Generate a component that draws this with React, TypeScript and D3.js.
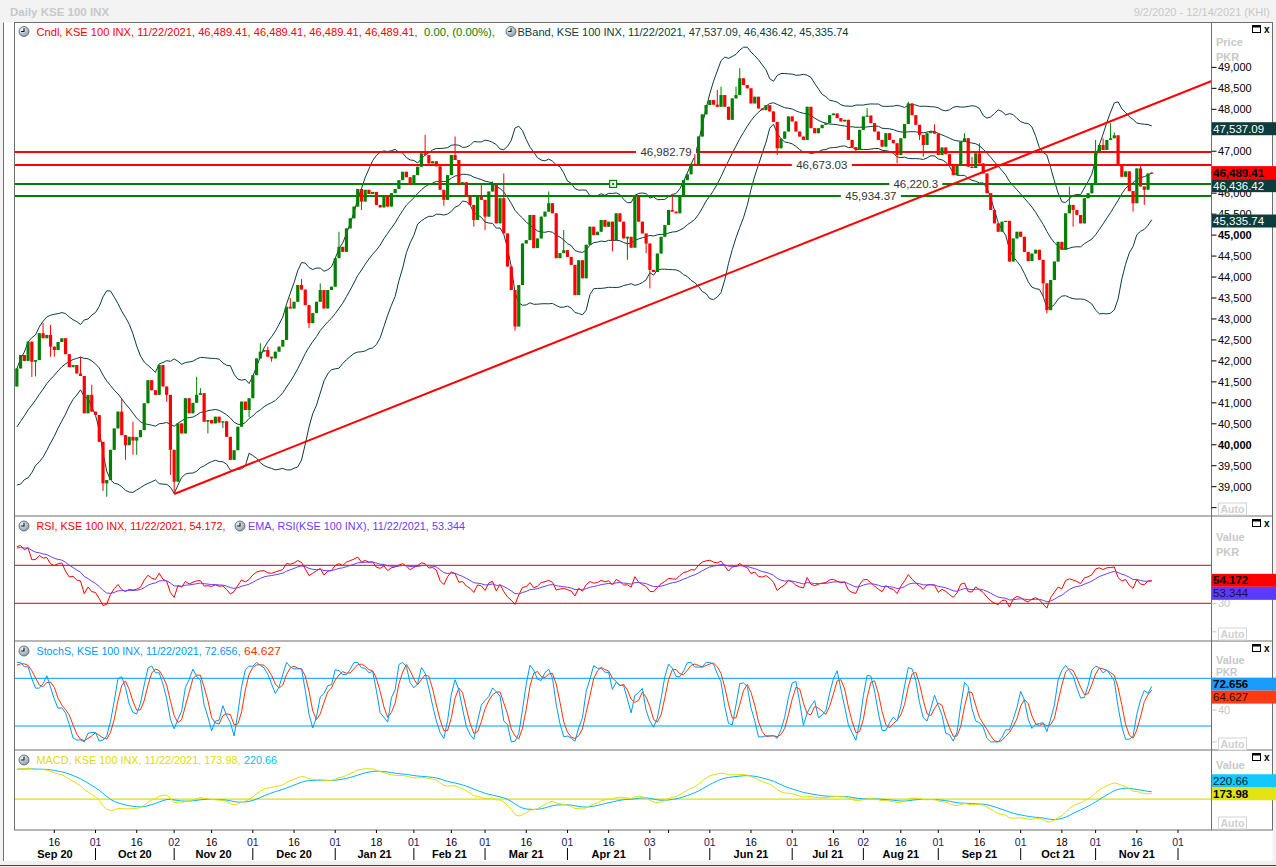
import * as d3 from 'd3';

// ---------- data (KSE 100 daily) ----------
const HOLIDAYS = [
  '2020-10-30', '2020-12-25', '2021-02-05', '2021-03-23',
  '2021-05-10', '2021-05-11', '2021-05-12', '2021-05-13', '2021-05-14',
  '2021-07-20', '2021-07-21', '2021-07-22', '2021-08-18', '2021-08-19', '2021-10-19',
];

// history before the window, only used to seed the indicators (estimated from the band/osc. levels at the left edge)
const PRE_CLOSE = [
  34500, 34700, 35100, 35400, 35300, 35700, 36000, 36250, 36100, 36600, 36900,
  37200, 37050, 37400, 37700, 37600, 38000, 38300, 38200, 38500, 38800, 39100,
  39280, 39450, 39390, 39600, 39720, 39650, 39900, 40050, 39980, 40200,
  40420, 40350, 40600, 40780, 40700, 40950, 41150, 41080, 41300, 41390,
];

const FIRST_OPEN = 41390;

const CLOSE = [
  // Sep 20
  41820, 42140, 42000, 42460, 41980, 42020, 42660, 42540, 42620, 42340, 42260,
  42450, 42540, 42160, 41850, 41900, 41700, 41640, 40750, 41190, 40790,
  // Oct 20
  40710, 40070, 39080, 39160, 39880, 40390, 40790, 40230, 39990, 40190, 40100,
  40180, 40350, 40990, 41540, 41300, 41190, 41900, 41390, 41190, 39880,
  // Nov 20
  39120, 40510, 40270, 41110, 40750, 41000, 41190, 41230, 40550, 40590, 40510,
  40670, 40530, 40560, 40190, 39640, 39870, 40430, 41030, 40830, 41110,
  // Dec 20
  41660, 42060, 42220, 42260, 42100, 42060, 42220, 42340, 42500, 43290, 43250,
  43410, 43810, 43700, 43330, 42900, 43140, 43410, 43690, 43250, 43690, 43770,
  // Jan 21
  44450, 44720, 44600, 45160, 45400, 45680, 46100, 45800, 46080, 45980, 46030,
  45720, 45660, 45950, 45680, 46000, 46100, 46310, 46510, 46380, 46200,
  // Feb 21
  46430, 46630, 46950, 46910, 46710, 46760, 46640, 46080, 45840, 46430, 46910,
  46790, 46200, 46260, 45920, 45720, 45360, 45920, 45840,
  // Mar 21
  45440, 46040, 46200, 45280, 45880, 45040, 44250, 43690, 42820, 43810, 44800,
  44880, 45480, 44690, 44920, 45440, 45560, 45760, 45520, 44450, 44570, 44640,
  // Apr 21
  44480, 44290, 43570, 44400, 43970, 44770, 45200, 45000, 45080, 45360, 45200,
  45320, 44880, 45520, 45320, 44920, 44960, 44700, 45920, 45320, 45040, 44800,
  // May 21
  44170, 44120, 44560, 44960, 45240, 45600, 45560, 45520, 45950, 46310, 46450,
  46700, 46680, 47350, 47880, 48100,
  // Jun 21
  48220, 48110, 48060, 48340, 48060, 47750, 48260, 48340, 48740, 48580, 48500,
  48140, 48300, 48020, 47980, 48100, 47950, 47700, 47070, 47300, 47470, 47830,
  // Jul 21
  47710, 47470, 47350, 47270, 48060, 47550, 47430, 47550, 47630, 47670, 47860,
  47900, 47790, 47710, 47750, 47270, 47100, 47040, 47510,
  // Aug 21
  47830, 47850, 47670, 47470, 47270, 47110, 47430, 47270, 47190, 46910, 47310,
  47650, 48140, 47860, 47630, 47390, 47150, 47430, 47470, 47420,
  // Sep 21
  46910, 47090, 46930, 46670, 46430, 46670, 47230, 47310, 46630, 46600, 46950,
  46710, 46470, 46000, 45600, 45280, 45080, 45320, 45340, 44370, 44920, 45080,
  // Oct 21
  44960, 44600, 44380, 44560, 44650, 44410, 43850, 43210, 43930, 44370, 44840,
  44650, 45520, 45720, 45600, 45480, 45280, 45880, 46000, 46230,
  // Nov 21
  46990, 47150, 47030, 47270, 47310, 47380, 46670, 46390, 46520, 46050, 45760,
  46590, 46160, 46080, 46470, 46489.41,
];

// visible wick tips: [candle index, price]
const HIGH_WICKS: [number, number][] = [
  [7, 42900], [9, 42860], [17, 42100], [20, 41430], [28, 41110], [31, 40550],
  [48, 41620], [49, 41350], [65, 42420], [67, 42340], [73, 43500], [76, 43950],
  [81, 43850], [86, 45080], [109, 47390], [117, 47350], [124, 46240], [127, 46280],
  [130, 46470], [142, 46040], [146, 45120], [175, 45960], [181, 46930], [187, 48460],
  [188, 48540], [192, 48540], [193, 48980], [227, 48030], [238, 48180], [245, 47640],
  [253, 47430], [255, 46870], [257, 47190], [281, 46160], [288, 47270], [290, 47310],
  [292, 47670], [293, 47450], [300, 46670],
];
const LOW_WICKS: [number, number][] = [
  [4, 41620], [5, 41630], [9, 42100], [10, 42100], [23, 38900], [24, 38760],
  [29, 39640], [31, 39760], [32, 39760], [40, 41030], [41, 39280], [42, 38880],
  [51, 40270], [55, 40400], [62, 40660], [68, 41980], [78, 42780], [92, 45600],
  [114, 45700], [122, 45200], [125, 45120], [133, 42720], [159, 44610], [163, 44410],
  [168, 44570], [169, 43730], [203, 46910], [224, 46990], [235, 46710], [241, 47270],
  [242, 46870], [274, 43530], [275, 43130], [282, 45200], [287, 45990], [298, 45560],
  [301, 45720],
];

const LEVELS = [46982.79, 46673.03, 46220.3, 45934.37];
const LEVEL_KIND = ['res', 'res', 'sup', 'sup'];
const TREND = [[42, 38826], [303, 48105]];

const LAST_CLOSE = 46489.41;
const LAST_BBAND = [47537.09, 46436.42, 45335.74];
const LAST_RSI = [54.172, 53.344];
const LAST_STOCH = [72.656, 64.627];
const LAST_MACD = [173.98, 220.66];
const PRICE_TICKS = d3.range(38500, 49001, 500);
const RSI_TICKS = [0, 30, 60];
const STOCH_TICKS = [0, 40, 80];
const MONTHS = ['Jan', 'Feb', 'Mar', 'Apr', 'May', 'Jun', 'Jul', 'Aug', 'Sep', 'Oct', 'Nov', 'Dec'];

// ---------- layout ----------
const W = 1276, H = 867;
const PL = 14.5, PR = 1211.5, AR = 1272.5;
const P1 = [22.5, 516], P2 = [516, 641], P3 = [641, 750], P4 = [750, 830];
const FONT = '"Liberation Sans", Arial, sans-serif';
const TEAL = '#0c3c3c';
const UP = '#008000', DOWN = '#ff0000';

function tradingDays() {
  const out: Date[] = [];
  const d = new Date(Date.UTC(2020, 8, 2));
  const end = Date.UTC(2021, 11, 14);
  while (d.getTime() <= end) {
    const wd = d.getUTCDay();
    const iso = d.toISOString().slice(0, 10);
    if (wd !== 0 && wd !== 6 && !HOLIDAYS.includes(iso)) out.push(new Date(d.getTime()));
    d.setUTCDate(d.getUTCDate() + 1);
  }
  return out;
}

function ema(arr: number[], p: number) {
  const k = 2 / (p + 1);
  const out: number[] = [];
  arr.forEach((v, i) => out.push(i === 0 ? v : v * k + out[i - 1] * (1 - k)));
  return out;
}

function Clock({ x, y }: { x: number; y: number }) {
  return (
    <g transform={`translate(${x},${y})`}>
      <circle r={5} fill="url(#clk)" stroke="#4d5a66" strokeWidth={0.8} />
      <path d="M0,-3.3V0H-2.8" stroke="#111" strokeWidth={1.1} fill="none" />
    </g>
  );
}

function WinIcons({ y }: { y: number }) {
  return (
    <g>
      <rect x={1252.5} y={y - 3.5} width={8} height={7} fill="none" stroke="#000" strokeWidth={1} />
      <line x1={1252.5} x2={1260.5} y1={y - 2.5} y2={y - 2.5} stroke="#000" strokeWidth={2} />
      <text x={1264} y={y + 3.5} fontSize={10} fontWeight="bold" fontFamily={FONT}>x</text>
    </g>
  );
}

function AutoBox({ y }: { y: number }) {
  return (
    <g>
      <rect x={1218.5} y={y - 6} width={28} height={12} fill="#fff" stroke="#d4d4d4" />
      <text x={1232.5} y={y + 4} textAnchor="middle" fontSize={10.5} fontWeight="bold" fill="#cfcfcf" fontFamily={FONT}>Auto</text>
    </g>
  );
}

type Box = { label: string; y: number; bg: string; fg: string; bold?: boolean };
function ValueBox({ b }: { b: Box }) {
  return (
    <g>
      <rect x={1212} y={b.y - 6.5} width={64} height={13} fill={b.bg} />
      <text x={1213} y={b.y + 4} fontSize={11.5} fontWeight={b.bold ? 'bold' : 'normal'} fill={b.fg} fontFamily={FONT}>{b.label}</text>
    </g>
  );
}

function stack(anchorY: number, anchorV: number, y: number, v: number) {
  if (Math.abs(y - anchorY) >= 13) return y;
  return v > anchorV ? anchorY - 13 : anchorY + 13;
}

// a tick label is left out when a value box covers its tick
const covered = (y: number, boxes: Box[]) => boxes.some((b) => Math.abs(b.y - y) < 6.5);

export default function App() {
  const days = tradingDays();
  const n = CLOSE.length;
  const hi = new Map(HIGH_WICKS);
  const lo = new Map(LOW_WICKS);
  const candles = CLOSE.map((c, i) => {
    const o = i === 0 ? FIRST_OPEN : i === n - 1 ? c : CLOSE[i - 1];
    const h = Math.max(o, c, hi.has(i) ? (hi.get(i) as number) : -Infinity);
    const l = Math.min(o, c, lo.has(i) ? (lo.get(i) as number) : Infinity);
    return { i, o, h, l, c };
  });

  // ----- indicators -----
  const pre = PRE_CLOSE.length;
  const allC = [...PRE_CLOSE, ...CLOSE];
  const allH = [...PRE_CLOSE, ...candles.map((d) => d.h)];
  const allL = [...PRE_CLOSE, ...candles.map((d) => d.l)];
  const N = allC.length;

  const bb = d3.range(n).map((i) => {
    const j = i + pre;
    const w = allC.slice(j - 19, j + 1);
    const m = d3.mean(w) as number;
    const sd = Math.sqrt(d3.mean(w, (v) => (v - m) ** 2) as number);
    return { up: m + 2 * sd, mid: m, low: m - 2 * sd };
  });

  const rsiAll: number[] = new Array(N).fill(NaN);
  let ag = 0, al = 0;
  for (let j = 1; j < N; j++) {
    const ch = allC[j] - allC[j - 1];
    const g = Math.max(ch, 0), l = Math.max(-ch, 0);
    if (j <= 14) {
      ag += g / 14; al += l / 14;
      if (j === 14) rsiAll[j] = 100 - 100 / (1 + ag / al);
    } else {
      ag = (ag * 13 + g) / 14; al = (al * 13 + l) / 14;
      rsiAll[j] = 100 - 100 / (1 + ag / al);
    }
  }
  const rsiEma = [...new Array(14).fill(NaN), ...ema(rsiAll.slice(14), 9)];
  const rsi = rsiAll.slice(pre);
  const rsiE = rsiEma.slice(pre);

  // slow stochastic 5,3,3
  const KP = 5;
  const rawK: number[] = allC.map((c, j) => {
    if (j < KP - 1) return NaN;
    const hh = d3.max(allH.slice(j - KP + 1, j + 1)) as number;
    const ll = d3.min(allL.slice(j - KP + 1, j + 1)) as number;
    return hh === ll ? 50 : ((c - ll) / (hh - ll)) * 100;
  });
  const slowK = rawK.map((_, j) => (j < KP + 1 ? NaN : (rawK[j] + rawK[j - 1] + rawK[j - 2]) / 3));
  const slowD = slowK.map((_, j) => (j < KP + 3 ? NaN : (slowK[j] + slowK[j - 1] + slowK[j - 2]) / 3));
  const stK = slowK.slice(pre);
  const stD = slowD.slice(pre);

  const e12 = ema(allC, 12), e26 = ema(allC, 26);
  const macdAll = allC.map((_, j) => e12[j] - e26[j]);
  const sigAll = ema(macdAll, 9);
  const macd = macdAll.slice(pre);
  const sig = sigAll.slice(pre);

  // ----- scales -----
  const x = d3.scaleLinear().domain([0, 310]).range([16.85, 1178]);
  const yP = d3.scaleLinear().domain([39000, 48000]).range([486.7, 109.3]);
  const yR = d3.scaleLinear().domain([30, 70]).range([603.3, 565.3]);
  const yS = d3.scaleLinear().domain([20, 80]).range([726, 678.3]);
  const mExt = d3.extent([...macd, ...sig]) as [number, number];
  const yM = d3.scaleLinear().domain(mExt).range([822, 768]);

  const lineOf = (ys: (v: number) => number) =>
    d3.line<number>().defined((v) => Number.isFinite(v)).x((_, i) => x(i)).y((v) => ys(v));

  // ----- time axis -----
  const ticks: { i: number; label: string; start: boolean }[] = [];
  const monthStarts: { i: number; label: string }[] = [];
  days.forEach((d, i) => {
    const prev = days[i - 1];
    const m = d.getUTCMonth();
    if (!prev || prev.getUTCMonth() !== m) {
      monthStarts.push({ i, label: `${MONTHS[m]} ${String(d.getUTCFullYear()).slice(2)}` });
      if (prev) ticks.push({ i, label: String(d.getUTCDate()).padStart(2, '0'), start: true });
    }
    if (d.getUTCDate() >= 16 && (!prev || prev.getUTCDate() < 16 || prev.getUTCMonth() !== m)) {
      ticks.push({ i, label: String(d.getUTCDate()).padStart(2, '0'), start: false });
    }
  });
  let lastLab = -1e9;
  const tickLabs = ticks.map((t) => {
    const px = x(t.i);
    const show = px - lastLab > 24;
    if (show) lastLab = px;
    return { ...t, px, show };
  });

  const fmt = d3.format(',');
  const fmt2 = d3.format(',.2f');

  // trend line (extended to the right edge)
  const slope = (TREND[1][1] - TREND[0][1]) / (TREND[1][0] - TREND[0][0]);
  const tEnd = 322;
  const trendY = (i: number) => yP(TREND[0][1] + (i - TREND[0][0]) * slope);

  // level label positions (candle index at label centre) and gap widths
  const levelLabelAt = [173.3, 214.9, 240.0, 228.0];
  const levelGap = [60, 60, 53, 60];

  // right boxes
  const yClose = yP(LAST_CLOSE);
  const priceBoxes: Box[] = [
    { label: fmt2(LAST_BBAND[0]), y: yP(LAST_BBAND[0]), bg: TEAL, fg: '#fff' },
    { label: fmt2(LAST_CLOSE), y: yClose, bg: '#ff0000', fg: '#000', bold: true },
    { label: fmt2(LAST_BBAND[1]), y: stack(yClose, LAST_CLOSE, yP(LAST_BBAND[1]), LAST_BBAND[1]), bg: TEAL, fg: '#fff' },
    { label: fmt2(LAST_BBAND[2]), y: yP(LAST_BBAND[2]), bg: TEAL, fg: '#fff' },
  ];
  const yr0 = yR(LAST_RSI[0]);
  const rsiBoxes: Box[] = [
    { label: String(LAST_RSI[0]), y: yr0, bg: '#ff0000', fg: '#000', bold: true },
    { label: String(LAST_RSI[1]), y: stack(yr0, LAST_RSI[0], yR(LAST_RSI[1]), LAST_RSI[1]), bg: '#5b3cff', fg: '#1a1050' },
  ];
  const ys0 = yS(LAST_STOCH[0]);
  const stBoxes: Box[] = [
    { label: String(LAST_STOCH[0]), y: ys0, bg: '#1a9cff', fg: '#000', bold: true },
    { label: String(LAST_STOCH[1]), y: stack(ys0, LAST_STOCH[0], yS(LAST_STOCH[1]), LAST_STOCH[1]), bg: '#ff3c14', fg: '#3a0a00' },
  ];
  const ym0 = yM(LAST_MACD[0]);
  const mBoxes: Box[] = [
    { label: LAST_MACD[0].toFixed(2), y: ym0, bg: '#e4e414', fg: '#000', bold: true },
    { label: LAST_MACD[1].toFixed(2), y: stack(ym0, LAST_MACD[0], yM(LAST_MACD[1]), LAST_MACD[1]), bg: '#14c8ff', fg: '#002030' },
  ];

  const lastDate = '11/22/2021';
  const grayTxt = '#c8c8c8';
  const mTop = Math.min(...mBoxes.map((b) => b.y)) - 6.5;

  return (
    <svg width={W} height={H} style={{ position: 'absolute', left: 0, top: 0 }} fontFamily={FONT}>
      <defs>
        <radialGradient id="clk" cx="35%" cy="30%" r="75%">
          <stop offset="0%" stopColor="#f4f6f8" />
          <stop offset="100%" stopColor="#8a98a6" />
        </radialGradient>
        {[P1, P2, P3, P4].map((p, k) => (
          <clipPath id={`cp${k}`} key={k}>
            <rect x={PL} y={p[0]} width={PR - PL} height={p[1] - p[0]} />
          </clipPath>
        ))}
      </defs>
      <rect width={W} height={H} fill="#f3f3f3" />
      <rect x={3} y={22.5} width={AR - 3} height={861 - 22.5} fill="#fff" />
      <text x={10} y={16} fontSize={11.5} fontWeight="bold" fill={grayTxt}>Daily KSE 100 INX</text>
      <text x={1270} y={16} fontSize={11} fill={grayTxt} textAnchor="end">9/2/2020 - 12/14/2021 (KHI)</text>

      {/* ---------- price panel ---------- */}
      <g clipPath="url(#cp0)">
        {(['up', 'mid', 'low'] as const).map((k) => (
          <path key={k} d={lineOf((v) => yP(v))(bb.map((b) => b[k])) || ''} fill="none" stroke="#0a3c3c" strokeWidth={1} />
        ))}
        {LEVELS.map((v, k) => {
          const col = LEVEL_KIND[k] === 'res' ? '#ff0000' : '#008000';
          const cx = x(levelLabelAt[k]);
          return (
            <g key={v}>
              <line x1={PL} x2={PR} y1={yP(v)} y2={yP(v)} stroke={col} strokeWidth={2} />
              <rect x={cx - levelGap[k] / 2} y={yP(v) - 6} width={levelGap[k]} height={12} fill="#fff" />
              <text x={cx} y={yP(v) + 4} textAnchor="middle" fontSize={11.5} fill="#333">{fmt(v)}</text>
            </g>
          );
        })}
        <g>
          <rect x={x(159.2) - 3.5} y={yP(LEVELS[2]) - 3.5} width={7} height={7} fill="#fff" stroke="#008000" strokeWidth={1.2} />
          <rect x={x(159.2) - 1} y={yP(LEVELS[2]) - 1} width={2} height={2} fill="#008000" />
        </g>
        <line x1={x(TREND[0][0])} y1={trendY(TREND[0][0])} x2={x(tEnd)} y2={trendY(tEnd)} stroke="#ff0000" strokeWidth={2} />
        {candles.map((d) => {
          const up = d.c >= d.o;
          const col = d.i === n - 1 ? DOWN : up ? UP : DOWN;
          const cx = x(d.i);
          const top = yP(Math.max(d.o, d.c));
          const bot = yP(Math.min(d.o, d.c));
          return (
            <g key={d.i}>
              <rect x={cx - 0.5} y={yP(d.h)} width={1} height={Math.max(1, yP(d.l) - yP(d.h))} fill={col} />
              <rect x={cx - 1.6} y={top} width={3.2} height={Math.max(1.2, bot - top)} fill={col} />
            </g>
          );
        })}
      </g>
      <Clock x={24} y={31.5} />
      <text x={36.5} y={35.5} fontSize={11} fill="#ff0000" textLength={381} lengthAdjust="spacingAndGlyphs">
        {`Cndl, KSE 100 INX, ${lastDate}, ${fmt2(LAST_CLOSE)}, ${fmt2(LAST_CLOSE)}, ${fmt2(LAST_CLOSE)}, ${fmt2(LAST_CLOSE)},`}
      </text>
      <text x={424} y={35.5} fontSize={11} fill="#008000" textLength={71} lengthAdjust="spacingAndGlyphs">0.00, (0.00%),</text>
      <Clock x={511} y={31.5} />
      <text x={517.5} y={35.5} fontSize={11} fill="#0a3c3c" textLength={331} lengthAdjust="spacingAndGlyphs">
        {`BBand, KSE 100 INX, ${lastDate}, ${fmt2(LAST_BBAND[0])}, ${fmt2(LAST_BBAND[1])}, ${fmt2(LAST_BBAND[2])}`}
      </text>

      {/* ---------- RSI panel ---------- */}
      <g clipPath="url(#cp1)">
        {[70, 30].map((v) => (
          <line key={v} x1={PL} x2={PR} y1={yR(v)} y2={yR(v)} stroke="#e00000" strokeWidth={1} />
        ))}
        <path d={lineOf(yR)(rsi) || ''} fill="none" stroke="#ff0000" strokeWidth={1} />
        <path d={lineOf(yR)(rsiE) || ''} fill="none" stroke="#6a3cff" strokeWidth={1} />
      </g>
      <Clock x={24} y={526} />
      <text x={36.5} y={530} fontSize={11} fill="#ff0000" textLength={189} lengthAdjust="spacingAndGlyphs">
        {`RSI, KSE 100 INX, ${lastDate}, ${LAST_RSI[0]},`}
      </text>
      <Clock x={240} y={526} />
      <text x={248} y={530} fontSize={11} fill="#6a3cff" textLength={217} lengthAdjust="spacingAndGlyphs">
        {`EMA, RSI(KSE 100 INX), ${lastDate}, ${LAST_RSI[1]}`}
      </text>

      {/* ---------- Stochastic panel ---------- */}
      <g clipPath="url(#cp2)">
        {[80, 20].map((v) => (
          <line key={v} x1={PL} x2={PR} y1={yS(v)} y2={yS(v)} stroke="#0099ff" strokeWidth={1} />
        ))}
        <path d={lineOf(yS)(stD) || ''} fill="none" stroke="#ff3300" strokeWidth={1} />
        <path d={lineOf(yS)(stK) || ''} fill="none" stroke="#0099ff" strokeWidth={1} />
      </g>
      <Clock x={24} y={651} />
      <text x={36.5} y={655} fontSize={11} fill="#0099ff" textLength={204} lengthAdjust="spacingAndGlyphs">
        {`StochS, KSE 100 INX, ${lastDate}, ${LAST_STOCH[0]},`}
      </text>
      <text x={244} y={655} fontSize={11} fill="#ff3300" textLength={37} lengthAdjust="spacingAndGlyphs">{String(LAST_STOCH[1])}</text>

      {/* ---------- MACD panel ---------- */}
      <g clipPath="url(#cp3)">
        <line x1={PL} x2={PR} y1={yM(0)} y2={yM(0)} stroke="#e0e000" strokeWidth={1.2} />
        <path d={lineOf(yM)(sig) || ''} fill="none" stroke="#00b4ff" strokeWidth={1} />
        <path d={lineOf(yM)(macd) || ''} fill="none" stroke="#e0e000" strokeWidth={1} />
      </g>
      <Clock x={24} y={760} />
      <text x={36.5} y={764} fontSize={11} fill="#dede00" textLength={204} lengthAdjust="spacingAndGlyphs">
        {`MACD, KSE 100 INX, ${lastDate}, ${LAST_MACD[0].toFixed(2)},`}
      </text>
      <text x={244} y={764} fontSize={11} fill="#00c0ff" textLength={33} lengthAdjust="spacingAndGlyphs">{LAST_MACD[1].toFixed(2)}</text>

      {/* ---------- frames ---------- */}
      <line x1={3.5} x2={3.5} y1={22.5} y2={861} stroke="#707070" />
      <rect x={PL} y={P1[0]} width={AR - PL} height={P4[1] - P1[0]} fill="none" stroke="#6e6e6e" />
      <line x1={PR} x2={PR} y1={P1[0]} y2={P4[1]} stroke="#6e6e6e" />
      {[P2[0], P3[0], P4[0]].map((y) => (
        <line key={y} x1={PL} x2={AR} y1={y} y2={y} stroke="#6e6e6e" />
      ))}

      {/* ---------- right axes ---------- */}
      <g fontSize={11}>
        {PRICE_TICKS.map((v) => (
          <g key={v}>
            <line x1={PR} x2={PR + 5} y1={yP(v)} y2={yP(v)} stroke="#000" />
            {v >= 39000 && !covered(yP(v), priceBoxes) && (
              <text x={1218} y={yP(v) + 4} fontWeight={v % 5000 === 0 ? 'bold' : 'normal'} fill="#000">{fmt(v)}</text>
            )}
          </g>
        ))}
        <text x={1216} y={46} fontWeight="bold" fill={grayTxt}>Price</text>
        <text x={1216} y={61} fontWeight="bold" fill={grayTxt}>PKR</text>
        {priceBoxes.map((b) => <ValueBox key={b.label} b={b} />)}

        {RSI_TICKS.map((v) => (
          <g key={v}>
            <line x1={PR} x2={PR + 5} y1={yR(v)} y2={yR(v)} stroke={grayTxt} />
            {!covered(yR(v), rsiBoxes) && v > 0 && <text x={1218} y={yR(v) + 4} fill={grayTxt}>{v}</text>}
          </g>
        ))}
        <text x={1216} y={541} fontWeight="bold" fill={grayTxt}>Value</text>
        <text x={1216} y={556} fontWeight="bold" fill={grayTxt}>PKR</text>
        {rsiBoxes.map((b) => <ValueBox key={b.label} b={b} />)}

        {STOCH_TICKS.map((v) => (
          <g key={v}>
            <line x1={PR} x2={PR + 5} y1={yS(v)} y2={yS(v)} stroke={grayTxt} />
            {!covered(yS(v), stBoxes) && v > 0 && <text x={1218} y={yS(v) + 4} fill={grayTxt}>{v}</text>}
          </g>
        ))}
        <text x={1216} y={664} fontWeight="bold" fill={grayTxt}>Value</text>
        <text x={1216} y={676} fontWeight="bold" fill={grayTxt} fontSize={10}>PKR</text>
        {stBoxes.map((b) => <ValueBox key={b.label} b={b} />)}

        <line x1={PR} x2={PR + 5} y1={yM(0)} y2={yM(0)} stroke={grayTxt} />
        {!covered(yM(0), mBoxes) && <text x={1218} y={yM(0) + 4} fill={grayTxt}>0</text>}
        <text x={1216} y={Math.min(769, mTop - 1)} fontWeight="bold" fill={grayTxt}>Value</text>
        {mBoxes.map((b) => <ValueBox key={b.label} b={b} />)}
      </g>
      <AutoBox y={509} />
      <AutoBox y={634} />
      <AutoBox y={744} />
      <AutoBox y={823} />
      <WinIcons y={29} />
      <WinIcons y={523} />
      <WinIcons y={648} />
      <WinIcons y={757} />

      {/* ---------- time axis ---------- */}
      <g fontSize={10.5}>
        {tickLabs.map((t) => (
          <g key={`${t.i}-${t.label}`}>
            <line x1={t.px} x2={t.px} y1={P4[1]} y2={P4[1] + 3} stroke="#000" />
            {t.show && (
              <text x={t.px} y={845.5} textAnchor="middle" fill={t.start ? '#1c1c5c' : '#000'}>{t.label}</text>
            )}
          </g>
        ))}
        {monthStarts.map((m, k) => {
          const x0 = k === 0 ? PL : x(m.i);
          const x1 = k + 1 < monthStarts.length ? x(monthStarts[k + 1].i) : PR;
          return (
            <g key={m.label}>
              {k > 0 && <line x1={x0} x2={x0} y1={848} y2={860} stroke="#000" />}
              {x1 - x0 > 60 && (
                <text x={(x0 + x1) / 2} y={857.5} textAnchor="middle" fontWeight="bold" fontSize={11}>{m.label}</text>
              )}
            </g>
          );
        })}
      </g>
      <rect x={0} y={861} width={W} height={6} fill="#f0f0f0" />
      <line x1={0} x2={W} y1={865.5} y2={865.5} stroke="#404040" />
    </svg>
  );
}
